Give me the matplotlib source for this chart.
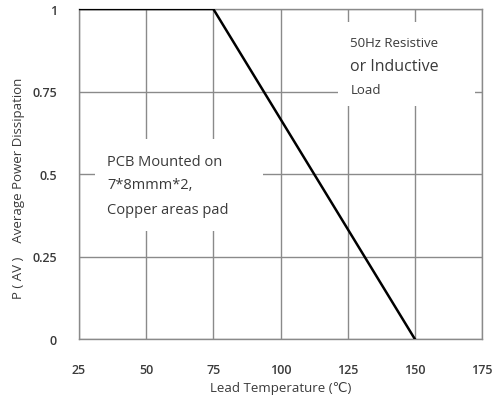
import matplotlib
matplotlib.use("Agg")
import matplotlib.pyplot as plt
from matplotlib.patches import Rectangle

# Data
temp = [25, 75, 150]
power = [1, 1, 0]
xticks = [25, 50, 75, 100, 125, 150, 175]
yticks = [0, 0.25, 0.5, 0.75, 1]
ylabels = ["0", "0.25", "0.5", "0.75", "1"]

plt.rcParams['font.family'] = ['Open Sans', 'DejaVu Sans']

fig = plt.figure(figsize=(4.92, 4.10), dpi=100)
ax = fig.add_axes([79/492, 1-340/410, 403/492, 330/410])

grey = "#8a8a8a"
txt = "#3a3a3a"
ax.set_xlim(25, 175)
ax.set_ylim(0, 1)
ax.set_xticks(xticks)
ax.set_yticks(yticks)
ax.set_yticklabels(ylabels)
ax.grid(True, color=grey, lw=1.0)
ax.set_axisbelow(True)
for s in ax.spines.values():
    s.set_color(grey)
    s.set_linewidth(1.0)
ax.tick_params(length=0, labelsize=9, colors=txt)
for lbl in ax.get_xticklabels() + ax.get_yticklabels():
    lbl.set_fontweight("semibold")
ax.tick_params(axis="x", pad=17)
ax.tick_params(axis="y", pad=16)

ax.plot(temp, power, color="black", lw=1.8, zorder=4)

# white boxes covering the grid behind the notes
ax.add_patch(Rectangle((31, 0.327), 62.5, 0.279, transform=ax.transData,
                       facecolor="white", edgecolor="none", zorder=2))
ax.add_patch(Rectangle((121.4, 0.706), 51, 0.254, transform=ax.transData,
                       facecolor="white", edgecolor="none", zorder=2))

ax.text(35.5, 0.537, "PCB Mounted on", fontsize=10.5, color=txt, va="center", zorder=3)
ax.text(35.5, 0.468, "7*8mmm*2,", fontsize=10.5, color=txt, va="center", zorder=3)
ax.text(35.5, 0.392, "Copper areas pad", fontsize=10.5, color=txt, va="center", zorder=3)

ax.text(126, 0.897, "50Hz Resistive", fontsize=9.5, color=txt, va="center", zorder=3)
ax.text(126, 0.827, "or Inductive", fontsize=11.5, color=txt, va="center", zorder=3)
ax.text(126, 0.755, "Load", fontsize=9.5, color=txt, va="center", zorder=3)

ax.set_xlabel("Lead Temperature (\u2103)", fontsize=9.5, color=txt, labelpad=4)
ax.set_ylabel("P ( AV )    Average Power Dissipation", fontsize=9.5, color=txt)
ax.yaxis.set_label_coords(-0.135, 0.46)

fig.savefig("out.png", dpi=100, facecolor="white")
